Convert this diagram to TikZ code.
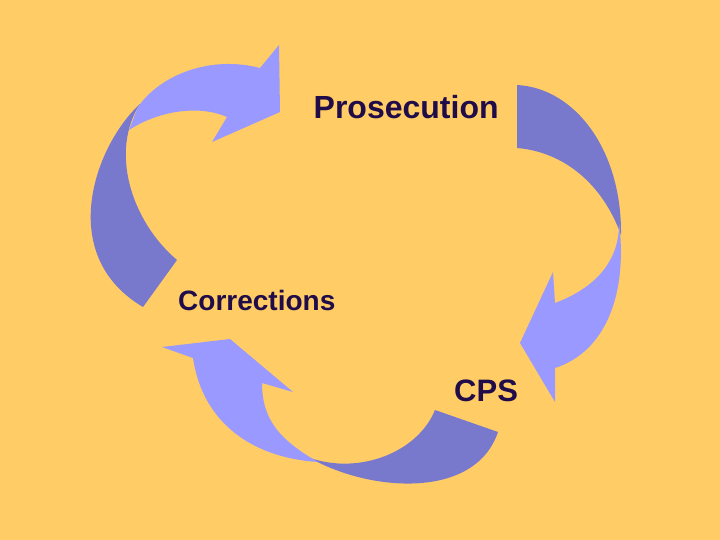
\documentclass[tikz,border=0pt]{standalone}
\usepackage{fontspec}
\setmainfont{Liberation Sans}
\usetikzlibrary{positioning}

\definecolor{slide}{RGB}{255,204,102}
\definecolor{lightband}{RGB}{153,153,255}
\definecolor{darkband}{RGB}{120,120,204}
\definecolor{ink}{RGB}{32,12,72}

\tikzset{
  stage/.style={font=\fontsize{#1}{#1}\selectfont\bfseries, text=ink, inner sep=0pt, anchor=base west},
  front/.style={fill=lightband},
  back/.style={fill=darkband},
}

\begin{document}
\begin{tikzpicture}[x=1pt,y=-1pt]
  \fill[slide] (0,0) rectangle (720,540);
  \node[stage=32] (pros) at (313.5,118.3) {Prosecution};
  \node[stage=28] (corr) at (178,310) {Corrections};
  \node[stage=31] (cps) at (454,401.7) {CPS};
  % left arrow
  \fill[back] (140,104) .. controls (95,145) and (55,255) .. (143,307) -- (177,260)
    .. controls (130,220) and (110,150) .. (140,104) -- cycle;
  \fill[front] (129,130) .. controls (160,110) and (200,105) .. (227,117)
    -- (212,142) -- (280,112) -- (279,45) -- (260,68)
    .. controls (210,55) and (160,75) .. (138,107) -- cycle;
  % right arrow
  \fill[back] (517,85) .. controls (575,88) and (622,150) .. (621,235)
    .. controls (603,185) and (565,152) .. (517,148) -- cycle;
  \fill[front] (619,222) .. controls (628,295) and (605,352) .. (555,368)
    -- (555,402) -- (520,343) -- (553,272) -- (555,303)
    .. controls (590,290) and (620,265) .. (619,222) -- cycle;
  % bottom arrow
  \fill[back] (310,458) .. controls (370,492) and (475,500) .. (498,432) -- (435,410)
    .. controls (418,452) and (360,475) .. (310,458) -- cycle;
  \fill[front] (193,358) .. controls (203,425) and (255,458) .. (318,462)
    .. controls (280,440) and (262,420) .. (262,383)
    -- (293,392) -- (230,339) -- (162,347) -- cycle;
\end{tikzpicture}
\end{document}
